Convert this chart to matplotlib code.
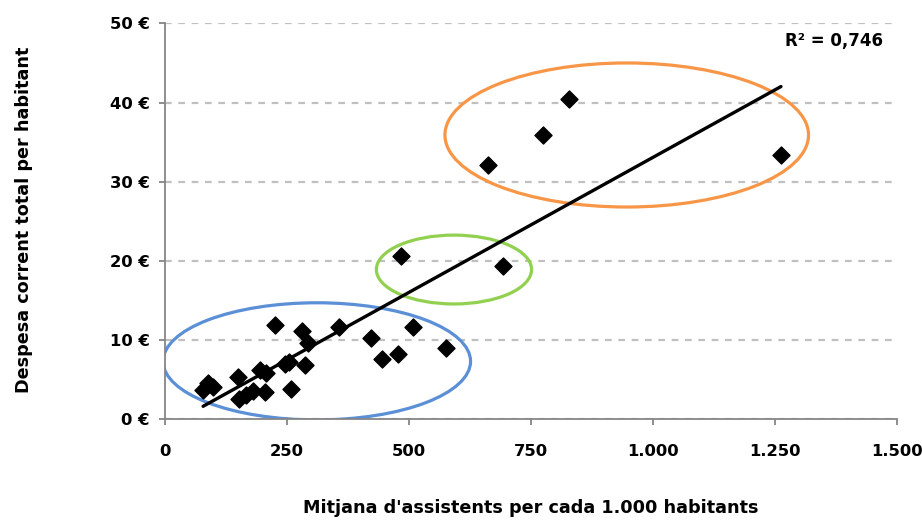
import numpy as np
import matplotlib
matplotlib.use("Agg")
import matplotlib.pyplot as plt
from matplotlib.patches import Ellipse
from matplotlib.ticker import FuncFormatter

plt.rcParams['font.family'] = ['DejaVu Sans']
plt.rcParams['font.weight'] = 'bold'

# attendees per 1,000 inhabitants vs. current spending per inhabitant (EUR)
assistents = [78, 88, 98, 150, 152, 165, 180, 195, 207, 205, 225, 245, 253, 258,
              280, 287, 292, 357, 421, 444, 478, 509, 576, 483, 693, 662, 775, 828, 1262]
despesa = [3.7, 4.6, 4.1, 5.3, 2.6, 3.1, 3.6, 6.2, 5.8, 3.4, 11.9, 7.0, 7.2, 3.8,
           11.1, 6.8, 9.6, 11.7, 10.2, 7.6, 8.2, 11.6, 9.0, 20.6, 19.4, 32.1, 35.9, 40.4, 33.4]
r2_text = "R² = 0,746"

# groups highlighted with ellipses: (centre x, centre y, width, height, colour)
grups = [
    (311, 7.3, 630, 14.8, '#5B8FD6'),
    (592, 18.9, 318, 8.7, '#92D050'),
    (946, 35.9, 745, 18.2, '#F79646'),
]

x = np.array(assistents, dtype=float)
y = np.array(despesa, dtype=float)
slope, intercept = np.polyfit(x, y, 1)

fig = plt.figure(figsize=(9.22, 5.2), dpi=100)
ax = fig.add_axes([0.179, 0.194, 0.794, 0.761])

ax.set_xlim(0, 1500)
ax.set_ylim(0, 50)
ax.set_xticks(np.arange(0, 1501, 250))
ax.set_yticks(np.arange(0, 51, 10))
ax.xaxis.set_major_formatter(FuncFormatter(lambda v, p: f"{int(v):,}".replace(",", ".")))
ax.yaxis.set_major_formatter(FuncFormatter(lambda v, p: f"{int(v)} €"))

ax.grid(axis='y', color='#C0C0C0', linestyle=(0, (3, 3)), linewidth=1.6)
ax.set_axisbelow(True)

for cx, cy, w, h, c in grups:
    ax.add_patch(Ellipse((cx, cy), w, h, fill=False, edgecolor=c, linewidth=2.3, zorder=2))

xl = np.array([x.min(), x.max()])
ax.plot(xl, slope * xl + intercept, color='black', linewidth=2.4, solid_capstyle='round', zorder=3)
ax.scatter(x, y, marker='D', s=75, color='black', zorder=4)

ax.text(0.914, 0.955, r2_text, transform=ax.transAxes, ha='center', va='center',
        fontsize=12, fontweight='bold')

for s in ['top', 'right']:
    ax.spines[s].set_visible(False)
for s in ['left', 'bottom']:
    ax.spines[s].set_color('#868686')
    ax.spines[s].set_linewidth(1.3)
ax.tick_params(axis='both', colors='#868686', labelcolor='black', length=4, width=1.3,
               labelsize=11.8)
ax.tick_params(axis='x', pad=14)
ax.tick_params(axis='y', pad=7)

ax.set_xlabel("Mitjana d'assistents per cada 1.000 habitants", fontsize=12.7, fontweight='bold')
ax.set_ylabel("Despesa corrent total per habitant", fontsize=12.7, fontweight='bold')
ax.xaxis.set_label_coords(0.5, -0.202)
ax.yaxis.set_label_coords(-0.181, 0.503)

fig.savefig("out.png", dpi=100)
